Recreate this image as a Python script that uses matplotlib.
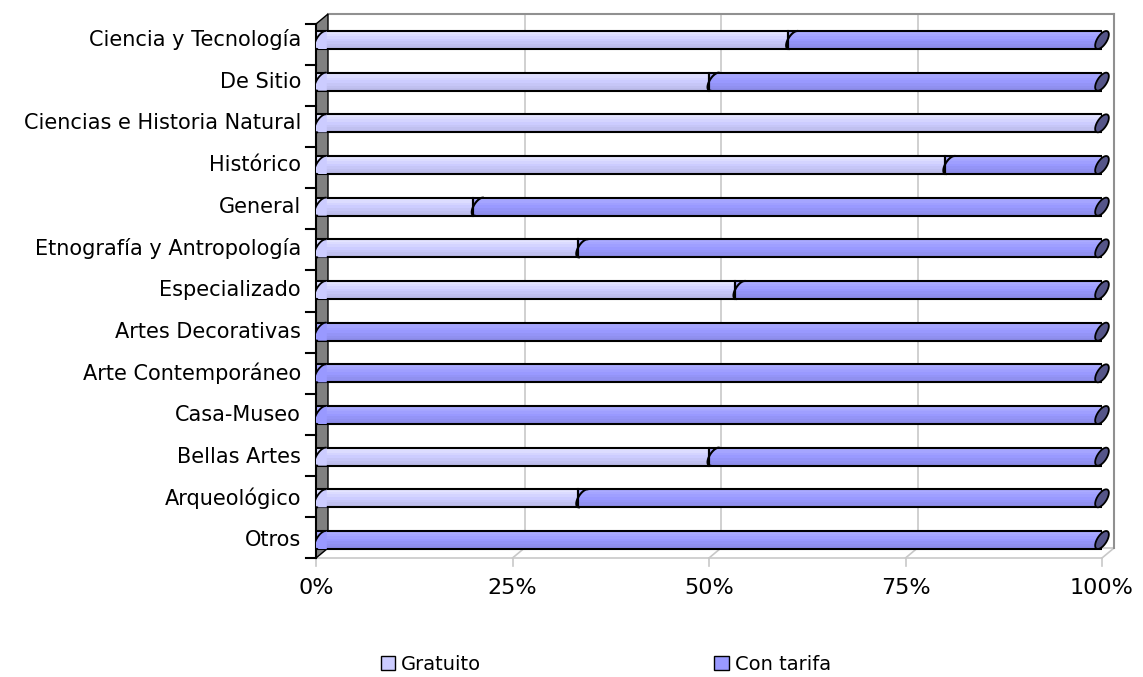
import numpy as np
import matplotlib
matplotlib.use("Agg")
import matplotlib.pyplot as plt
from matplotlib.patches import Polygon, Patch, Rectangle
from matplotlib.colors import to_rgb

categories = ["Ciencia y Tecnología", "De Sitio", "Ciencias e Historia Natural", "Histórico",
              "General", "Etnografía y Antropología", "Especializado", "Artes Decorativas",
              "Arte Contemporáneo", "Casa-Museo", "Bellas Artes", "Arqueológico", "Otros"]
gratuito = [60.0, 50.0, 100.0, 80.0, 20.0, 33.3, 53.3, 0.0, 0.0, 0.0, 50.0, 33.3, 0.0]
con_tarifa = [100 - g for g in gratuito]
series_names = ["Gratuito", "Con tarifa"]
xticks = [0, 25, 50, 75, 100]
xticklabels = ["0%", "25%", "50%", "75%", "100%"]

col_g = "#CCCCFF"
col_c = "#9999FF"
cap_col = "#555588"

W, H = 1143, 677
fig = plt.figure(figsize=(W / 100, H / 100), dpi=100)
x0, x1 = 316, 1102
ytop, ybot = 14, 558
ax = fig.add_axes([x0 / W, 1 - ybot / H, (x1 - x0) / W, (ybot - ytop) / H])
n = len(categories)
ypos = np.arange(n)[::-1]  # first category on top
ppu = (540 - 40) / (n - 1)
ymin = -(ybot - 540) / ppu
ymax = (n - 1) + (40 - ytop) / ppu
ax.set_xlim(0, 100)
ax.set_ylim(ymin, ymax)
ax.axis("off")

dx = 12 / (x1 - x0) * 100
dy = 10 / ppu
back_bottom = ymin + dy

# back wall grid + border
for v in xticks[1:-1]:
    ax.plot([v + dx, v + dx], [back_bottom, ymax], color="#c8c8c8", lw=1.2, zorder=0.5, clip_on=False)
ax.plot([100 + dx, 100 + dx], [back_bottom, ymax], color="#909090", lw=1.5, zorder=0.5, clip_on=False)
ax.plot([dx, 100 + dx], [ymax, ymax], color="#909090", lw=1.5, zorder=0.5, clip_on=False)
# floor
ax.plot([0, 100], [ymin, ymin], color="#c8c8c8", lw=1.2, zorder=0.4, clip_on=False)
ax.plot([dx, 100 + dx], [back_bottom, back_bottom], color="#c8c8c8", lw=1.2, zorder=0.4, clip_on=False)
for v in xticks:
    ax.plot([v, v + dx], [ymin, back_bottom], color="#c8c8c8", lw=1.2, zorder=0.4, clip_on=False)
    ax.plot([v, v], [ymin, ymin - 8 / ppu], color="#c8c8c8", lw=1.2, zorder=0.4, clip_on=False)
# left wall
wall = Polygon([(0, ymin), (dx, back_bottom), (dx, ymax), (0, ymax - dy)],
               closed=True, facecolor="#808080", edgecolor="black", lw=1.0, zorder=0.6, clip_on=False)
ax.add_patch(wall)
ax.plot([0, 0], [ymin, ymax - dy], color="black", lw=1.5, zorder=0.7, clip_on=False)
tick_y = np.linspace(ymin, ymax - dy, n + 1)
tlen = 10 / (x1 - x0) * 100
for ty in tick_y:
    ax.plot([-tlen, 0], [ty, ty], color="black", lw=1.5, zorder=0.7, clip_on=False)

bh = 18 / ppu
shades = [1.12, 1.08, 1.04, 1.0, 0.97, 0.94, 0.92]

def shade(c, f):
    r = np.clip(np.array(to_rgb(c)) * f, 0, 1)
    return tuple(r)

def seg(left, width, y, color):
    if width <= 0:
        return
    k = len(shades)
    h = bh / k
    for i, f in enumerate(shades):
        yy = y + bh / 2 - (i + 0.5) * h
        ax.barh(yy, width, left=left, height=h, color=shade(color, f), edgecolor="none", zorder=2)
    ax.add_patch(Rectangle((left, y - bh / 2), width, bh, fill=False, edgecolor="black", lw=1.5, zorder=3))

def cap_points(cx, y):
    t = np.linspace(0, 2 * np.pi, 60)
    rx = dx * 0.45
    sh = dx * 0.35
    return np.column_stack([cx + rx * np.cos(t) + sh * np.sin(t), y + (bh / 2) * np.sin(t)])

def arc(cx, y):
    t = np.linspace(np.pi / 2, 3 * np.pi / 2, 30)
    rx = dx * 0.45
    sh = dx * 0.35
    return cx + rx * np.cos(t) + sh * np.sin(t), y + (bh / 2) * np.sin(t)

for y, g, c in zip(ypos, gratuito, con_tarifa):
    seg(0, g, y, col_g)
    seg(g, c, y, col_c)
    # left cap (rounded start)
    first = col_g if g > 0 else col_c
    xs, ys = arc(dx * 0.45, y)
    ax.fill(np.concatenate([xs, [dx * 0.9, dx * 0.9]]), np.concatenate([ys, [ys[-1], ys[0]]]),
            color=shade(first, 1.0), zorder=3.5, lw=0)
    ax.plot(xs, ys, color="black", lw=1.3, zorder=4)
    if 0 < g < 100:
        xs, ys = arc(g + dx * 0.45, y)
        ax.plot(xs, ys, color="black", lw=1.5, zorder=4)
    ax.add_patch(Polygon(cap_points(100, y), closed=True, facecolor=cap_col, edgecolor="black",
                         lw=1.3, zorder=4, clip_on=False))

for y, lab in zip(ypos, categories):
    ax.text(-1.9, y, lab, ha="right", va="center", fontsize=15, color="black", clip_on=False)
for v, lab in zip(xticks, xticklabels):
    ax.text(v, ymin - 30 / ppu, lab, ha="center", va="center", fontsize=16, color="black", clip_on=False)

handles = [Patch(facecolor=col_g, edgecolor="black", label=series_names[0]),
           Patch(facecolor=col_c, edgecolor="black", label=series_names[1])]
fig.legend(handles=handles, loc="center", bbox_to_anchor=(0.530, 1 - 664 / H), ncol=2, frameon=False,
           fontsize=14, handlelength=0.75, handleheight=0.75, handletextpad=0.3, columnspacing=12.0)

fig.savefig("out.png", dpi=100)
